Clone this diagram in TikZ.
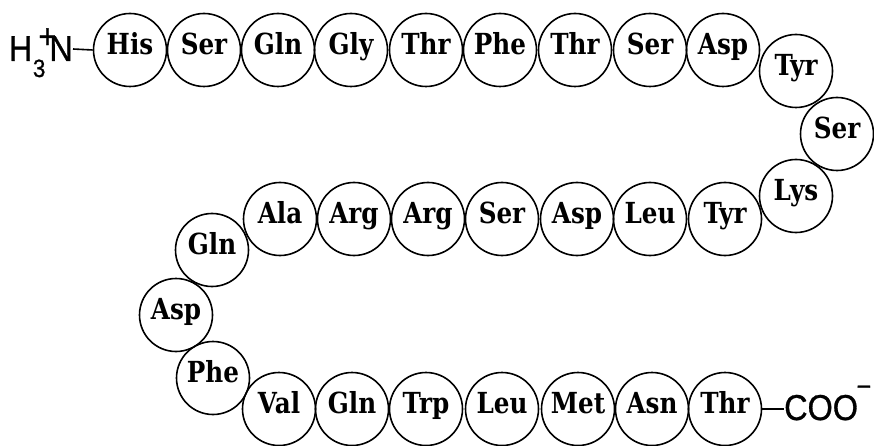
\documentclass[tikz,border=0pt]{standalone}
\usepackage{fontspec}
\newfontfamily\resfont[FakeStretch=0.85]{DejaVu Serif}
\newfontfamily\chemfont[FakeStretch=0.9,FakeBold=0.8]{Liberation Sans}
\tikzset{
  res/.style={circle, draw, line width=1.6pt, minimum size=73pt, inner sep=0pt,
    font=\resfont\bfseries\fontsize{29}{33}\selectfont, text height=15pt, text depth=6pt},
  chem/.style={inner sep=0pt, font=\chemfont\fontsize{36}{40}\selectfont},
  bond/.style={line width=1.6pt}
}
\begin{document}
\begin{tikzpicture}[x=1pt,y=-1pt]
\useasboundingbox (0,0) rectangle (874,446);
% top row
\node[res] (r1) at (130,50) {His};
\node[res] (r2) at (204,50) {Ser};
\node[res] (r3) at (278,50) {Gln};
\node[res] (r4) at (351,50) {Gly};
\node[res] (r5) at (426,50) {Thr};
\node[res] (r6) at (500,50) {Phe};
\node[res] (r7) at (575,50) {Thr};
\node[res] (r8) at (650,50) {Ser};
\node[res] (r9) at (723,50) {Asp};
% right turn
\node[res] (r10) at (796,71) {Tyr};
\node[res] (r11) at (837,134) {Ser};
\node[res] (r12) at (796,196) {Lys};
% middle row
\node[res] (r13) at (725,219) {Tyr};
\node[res] (r14) at (650,219) {Leu};
\node[res] (r15) at (577,219) {Asp};
\node[res] (r16) at (502,219) {Ser};
\node[res] (r17) at (428,219) {Arg};
\node[res] (r18) at (354,219) {Arg};
\node[res] (r19) at (280,219) {Ala};
% left turn
\node[res] (r20) at (212,250) {Gln};
\node[res] (r21) at (176,315) {Asp};
\node[res] (r22) at (213,378) {Phe};
% bottom row
\node[res] (r23) at (279,409) {Val};
\node[res] (r24) at (352,409) {Gln};
\node[res] (r25) at (426,409) {Trp};
\node[res] (r26) at (502,409) {Leu};
\node[res] (r27) at (578,409) {Met};
\node[res] (r28) at (652,409) {Asn};
\node[res] (r29) at (725,409) {Thr};
% N terminus
\node[chem, anchor=base west] (Nterm) at (8.8,61)
  {H\kern0.5pt\raisebox{-16pt}{\fontsize{25}{30}\selectfont 3}\kern2pt\makebox[0pt]{\raisebox{13pt}{\fontsize{34}{38}\selectfont +}}\kern2pt N};
\draw[bond] ([yshift=12pt]Nterm.base east) -- (r1.west);
% C terminus
\node[chem, anchor=base west] (Cterm) at (784,420)
  {COO\kern-1.5pt\raisebox{24pt}{\fontsize{28}{32}\selectfont −}};
\draw[bond] (r29.east) -- ([yshift=11pt]Cterm.base west);
\end{tikzpicture}
\end{document}
